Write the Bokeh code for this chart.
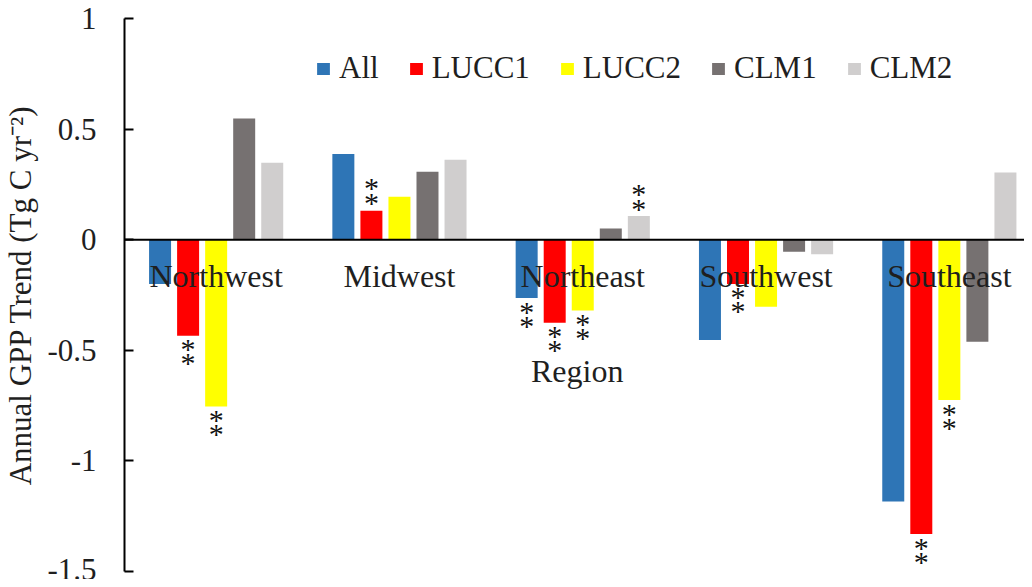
from bokeh.plotting import figure
from bokeh.models import ColumnDataSource, Legend, LegendItem, Span, FixedTicker, Range1d
from bokeh.core.properties import value
from bokeh.embed import file_html
from bokeh.resources import INLINE

# ---- data ----
regions = ["Northwest", "Midwest", "Northeast", "Southwest", "Southeast"]
series = ["All", "LUCC1", "LUCC2", "CLM1", "CLM2"]
colors = ["#2E75B6", "#FF0000", "#FFFF00", "#767171", "#D0CECE"]
all_vals = [-0.200, 0.387, -0.264, -0.454, -1.184]
lucc1_vals = [-0.434, 0.131, -0.376, -0.200, -1.331]
lucc2_vals = [-0.754, 0.194, -0.320, -0.303, -0.725]
clm1_vals = [0.548, 0.307, 0.051, -0.054, -0.461]
clm2_vals = [0.348, 0.362, 0.107, -0.066, 0.304]
# significance (**) flags
sig_all = [0, 0, 1, 0, 0]
sig_lucc1 = [1, 1, 1, 1, 1]
sig_lucc2 = [1, 0, 1, 0, 1]
sig_clm1 = [0, 0, 0, 0, 0]
sig_clm2 = [0, 0, 1, 0, 0]
y_ticks = [-1.5, -1, -0.5, 0, 0.5, 1]
y_tick_labels = ["-1.5", "-1", "-0.5", "0", "0.5", "1"]

values = [all_vals, lucc1_vals, lucc2_vals, clm1_vals, clm2_vals]
sigs = [sig_all, sig_lucc1, sig_lucc2, sig_clm1, sig_clm2]

FONT = "Liberation Serif"
TXT = "#1f1f1f"
STEP = 0.153
BAR_W = 0.12

p = figure(width=1024, height=579, output_backend="svg", toolbar_location=None,
           x_range=Range1d(0, 4.91), y_range=Range1d(-1.5, 1.0),
           x_axis_type=None, min_border_left=124, min_border_right=0,
           min_border_top=18, min_border_bottom=8)
p.outline_line_color = None
p.grid.visible = False
p.background_fill_color = "white"

# y axis
ya = p.yaxis[0]
ya.ticker = FixedTicker(ticks=y_ticks)
ya.major_label_overrides = {t: l for t, l in zip(y_ticks, y_tick_labels)}
ya.major_tick_in = 9
ya.major_tick_out = 0
ya.minor_tick_in = 0
ya.minor_tick_out = 0
ya.axis_line_width = 2
ya.major_tick_line_width = 2
ya.axis_line_color = "black"
ya.major_tick_line_color = "black"
ya.major_label_standoff = 28
ya.major_label_text_font = FONT
ya.major_label_text_font_size = "31px"
ya.major_label_text_color = TXT
ya.axis_label = "Annual GPP Trend (Tg C yr⁻²)"
ya.axis_label_text_font = FONT
ya.axis_label_text_font_size = "31px"
ya.axis_label_text_font_style = "normal"
ya.axis_label_text_color = TXT
ya.axis_label_standoff = 6

items = []
ast_x, ast_y, ast_off = [], [], []
for k, (name, col, vals, sg) in enumerate(zip(series, colors, values, sigs)):
    xs = [i + 0.5 + (k - 2) * STEP for i in range(len(regions))]
    src = ColumnDataSource(dict(x=xs, top=vals))
    r = p.vbar(x="x", top="top", bottom=0, width=BAR_W, source=src,
               fill_color=col, line_color=None)
    items.append(LegendItem(label=name, renderers=[r]))
    for x, v, s in zip(xs, vals, sg):
        if s:
            if v < 0:
                offs = [13, 27]
            else:
                offs = [-8, -23]
            for o in offs:
                ast_x.append(x)
                ast_y.append(v)
                ast_off.append(o)

# zero line
p.add_layout(Span(location=0, dimension="width", line_color="black", line_width=2))

# significance asterisks
p.text(x=ast_x, y=ast_y, y_offset=ast_off, text=["*"] * len(ast_x),
       text_font=value(FONT), text_font_size="30px", text_color="#111111",
       text_align="center", text_baseline="middle")

# region labels along zero line
p.text(x=[i + 0.5 for i in range(len(regions))], y=[0] * len(regions),
       y_offset=36, text=regions, text_font=value(FONT), text_font_size="32px",
       text_color=TXT, text_align="center", text_baseline="alphabetic")

# x-axis title
p.text(x=[2.47], y=[-0.592], text=["Region"], text_font=value(FONT),
       text_font_size="32px", text_color=TXT, text_align="center",
       text_baseline="alphabetic")

legend = Legend(items=items, orientation="horizontal", location=(191, 485),
                glyph_width=16, glyph_height=15, label_standoff=8, spacing=29,
                padding=0, margin=0, border_line_color=None,
                background_fill_alpha=0, label_text_font=FONT,
                label_text_font_size="31px", label_text_color=TXT)
p.add_layout(legend)

open("out.html", "w").write(file_html(p, INLINE))
